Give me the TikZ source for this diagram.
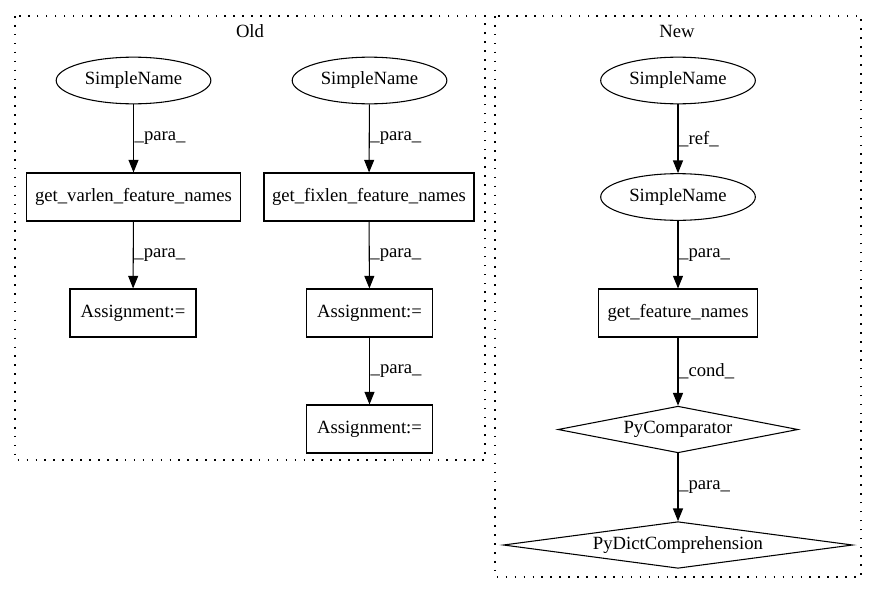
\documentclass[tikz,border=0pt]{standalone}
\usepackage{fontspec}
\setmainfont{Liberation Serif}
\usetikzlibrary{shapes.geometric,arrows.meta}

\begin{document}
\begin{tikzpicture}[x=0.75pt,y=-0.75pt,
        every node/.style={font=\fontsize{14}{16}\selectfont},
        ast/.style={draw,line width=0.8pt,ellipse,minimum width=116pt,minimum height=35pt,inner sep=0pt},
        call/.style={draw,line width=0.8pt,rectangle,minimum height=36pt,inner sep=0pt},
        cmp/.style={draw,line width=0.8pt,diamond,aspect=7,inner sep=0pt,minimum height=35pt},
        edge/.style={-{Triangle[length=9.5pt,width=7.5pt]},line width=0.8pt},
        elabel/.style={anchor=west,inner sep=0.5pt},
        cluster/.style={dash pattern=on 1.2pt off 5.5pt,line width=0.9pt}]
    \useasboundingbox (0,0) rectangle (877,596);
    % clusters
    \draw[cluster] (15,16) rectangle (485,460);
    \draw[cluster] (495,16) rectangle (861,577);
    \node (old) at (250,31) {Old};
    \node (new) at (677,31) {New};
    % old
    \node[ast] (sn1) at (133.5,80.5) {SimpleName};
    \node[ast] (sn2) at (369.5,80.5) {SimpleName};
    \node[call,minimum width=160pt] (varlen) at (133.5,197) {get\_varlen\_feature\_names};
    \node[call,minimum width=157.5pt] (fixlen) at (369,197) {get\_fixlen\_feature\_names};
    \node[call,minimum width=94.5pt] (asg1) at (133,313) {Assignment:=};
    \node[call,minimum width=94.5pt] (asg2) at (369.5,313) {Assignment:=};
    \node[call,minimum width=94.5pt] (asg3) at (369.5,429) {Assignment:=};
    \draw[edge] (sn1) -- node[elabel] {\_para\_} (varlen);
    \draw[edge] (sn2) -- node[elabel] {\_para\_} (fixlen);
    \draw[edge] (varlen) -- node[elabel] {\_para\_} (asg1);
    \draw[edge] (fixlen) -- node[elabel] {\_para\_} (asg2);
    \draw[edge] (asg2) -- node[elabel] {\_para\_} (asg3);
    % new
    \node[ast] (sn3) at (678,80.5) {SimpleName};
    \node[ast] (sn4) at (678,197) {SimpleName};
    \node[call,minimum width=119pt] (feat) at (678,313) {get\_feature\_names};
    \node[cmp,minimum width=180pt] (comp) at (678,429.5) {PyComparator};
    \node[cmp,minimum width=262pt] (dict) at (678,545) {PyDictComprehension};
    \draw[edge] (sn3) -- node[elabel] {\_ref\_} (sn4);
    \draw[edge] (sn4) -- node[elabel] {\_para\_} (feat);
    \draw[edge] (feat) -- node[elabel] {\_cond\_} (comp);
    \draw[edge] (comp) -- node[elabel] {\_para\_} (dict);
\end{tikzpicture}
\end{document}
